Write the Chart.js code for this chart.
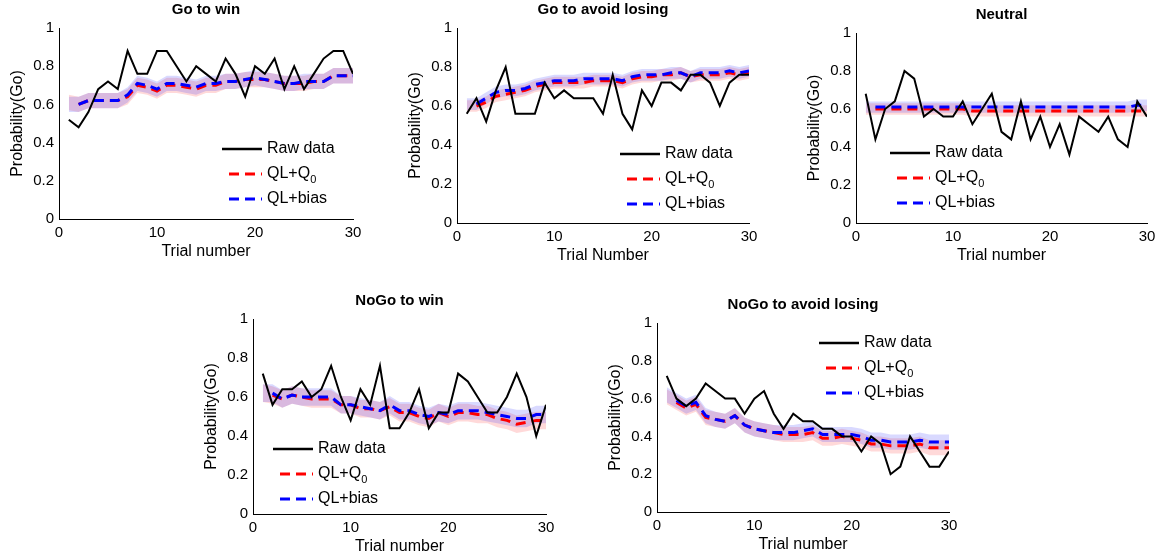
<!DOCTYPE html>
<html>
<head>
<meta charset="UTF-8">
<title>Probability(Go) by condition</title>
<script src="https://cdn.jsdelivr.net/npm/chart.js"></script>
<style>
    body { margin: 0; background: #fff; width: 1167px; height: 558px; overflow: hidden; position: relative; }
    .panel { position: absolute; }
</style>
</head>
<body>
<script>
// trials 1..30
const trials = Array.from({length: 30}, (_, i) => i + 1);
const xTicks = [0, 10, 20, 30];
const yTicks = [0, 0.2, 0.4, 0.6, 0.8, 1];

const goWinRaw  = [0.52,0.48,0.56,0.68,0.72,0.68,0.88,0.76,0.76,0.88,0.88,0.80,0.72,0.80,0.76,0.72,0.84,0.76,0.64,0.80,0.76,0.84,0.68,0.80,0.68,0.76,0.84,0.88,0.88,0.76];
const goWinQ0   = [0.61,0.60,0.62,0.62,0.62,0.62,0.64,0.70,0.69,0.67,0.70,0.70,0.69,0.68,0.70,0.70,0.72,0.72,0.73,0.73,0.73,0.72,0.71,0.71,0.71,0.72,0.72,0.75,0.75,0.75];
const goWinBias = [0.60,0.60,0.62,0.62,0.62,0.62,0.65,0.71,0.70,0.68,0.71,0.71,0.70,0.69,0.71,0.71,0.72,0.72,0.73,0.74,0.73,0.72,0.71,0.71,0.72,0.72,0.72,0.75,0.75,0.75];

const goAvoidRaw  = [0.56,0.64,0.52,0.68,0.80,0.56,0.56,0.56,0.72,0.64,0.68,0.64,0.64,0.64,0.56,0.76,0.56,0.48,0.68,0.60,0.72,0.72,0.68,0.76,0.76,0.72,0.60,0.72,0.76,0.76];
const goAvoidQ0   = [0.60,0.60,0.62,0.65,0.66,0.67,0.68,0.70,0.71,0.72,0.72,0.72,0.72,0.73,0.73,0.73,0.72,0.74,0.75,0.75,0.76,0.76,0.77,0.75,0.76,0.76,0.76,0.77,0.76,0.77];
const goAvoidBias = [0.61,0.61,0.64,0.67,0.68,0.68,0.69,0.71,0.72,0.73,0.73,0.73,0.74,0.74,0.74,0.74,0.73,0.75,0.76,0.76,0.76,0.77,0.77,0.75,0.77,0.77,0.77,0.78,0.77,0.78];

const neutralRaw  = [0.68,0.44,0.60,0.64,0.80,0.76,0.56,0.60,0.56,0.56,0.64,0.52,0.60,0.68,0.48,0.44,0.64,0.44,0.56,0.40,0.52,0.36,0.56,0.52,0.48,0.56,0.44,0.40,0.64,0.56];
const neutralQ0   = [0.60,0.60,0.60,0.60,0.60,0.60,0.60,0.60,0.60,0.60,0.60,0.59,0.59,0.59,0.59,0.59,0.59,0.59,0.59,0.59,0.59,0.59,0.59,0.59,0.59,0.59,0.59,0.59,0.59,0.59];
const neutralBias = [0.61,0.61,0.61,0.61,0.61,0.61,0.61,0.61,0.61,0.61,0.61,0.61,0.61,0.61,0.61,0.61,0.61,0.61,0.61,0.61,0.61,0.61,0.61,0.61,0.61,0.61,0.61,0.61,0.62,0.62];

const noGoWinRaw  = [0.72,0.56,0.64,0.64,0.68,0.60,0.64,0.76,0.60,0.48,0.64,0.56,0.76,0.44,0.44,0.52,0.64,0.44,0.52,0.52,0.72,0.68,0.60,0.52,0.52,0.60,0.72,0.60,0.40,0.56];
const noGoWinQ0   = [0.62,0.61,0.59,0.61,0.60,0.59,0.59,0.59,0.56,0.56,0.54,0.54,0.53,0.55,0.52,0.52,0.50,0.49,0.52,0.50,0.52,0.52,0.51,0.51,0.49,0.48,0.46,0.47,0.48,0.48];
const noGoWinBias = [0.62,0.62,0.59,0.61,0.60,0.60,0.60,0.60,0.56,0.56,0.55,0.54,0.53,0.56,0.53,0.53,0.51,0.50,0.52,0.51,0.53,0.53,0.53,0.52,0.51,0.50,0.49,0.49,0.51,0.51];

const noGoAvoidRaw  = [0.72,0.60,0.56,0.60,0.68,0.64,0.60,0.60,0.52,0.60,0.64,0.52,0.44,0.52,0.48,0.48,0.44,0.44,0.40,0.40,0.32,0.40,0.36,0.20,0.24,0.40,0.32,0.24,0.24,0.32];
const noGoAvoidQ0   = [0.61,0.58,0.55,0.57,0.50,0.49,0.48,0.51,0.46,0.44,0.43,0.42,0.41,0.41,0.41,0.42,0.39,0.39,0.40,0.39,0.38,0.36,0.36,0.35,0.35,0.35,0.36,0.34,0.34,0.34];
const noGoAvoidBias = [0.62,0.59,0.56,0.58,0.51,0.49,0.48,0.51,0.46,0.44,0.43,0.42,0.42,0.42,0.43,0.44,0.41,0.41,0.41,0.41,0.40,0.38,0.38,0.37,0.37,0.37,0.38,0.37,0.37,0.37];

// half width of the shaded error band, per panel
const bandHalf = [0.04, 0.03, 0.03, 0.045, 0.04];

const titles = ['Go to win', 'Go to avoid losing', 'Neutral', 'NoGo to win', 'NoGo to avoid losing'];
const xTitles = ['Trial number', 'Trial Number', 'Trial number', 'Trial number', 'Trial number'];

// plot areas in page pixels and legend placement (relative to plot area)
const panels = [
    {raw: goWinRaw, q0: goWinQ0, bias: goWinBias, area: [59, 28, 353, 219], legend: [163, 121]},
    {raw: goAvoidRaw, q0: goAvoidQ0, bias: goAvoidBias, area: [457, 28, 749, 223], legend: [163, 126]},
    {raw: neutralRaw, q0: neutralQ0, bias: neutralBias, area: [856, 33, 1147, 223], legend: [34, 120]},
    {raw: noGoWinRaw, q0: noGoWinQ0, bias: noGoWinBias, area: [253, 319, 546, 514], legend: [20, 130]},
    {raw: noGoAvoidRaw, q0: noGoAvoidQ0, bias: noGoAvoidBias, area: [657, 323, 949, 512], legend: [162, 20]}
];

const LEFT = 59, TOP = 28, RIGHT = 15, BOTTOM = 45;
const FONT = 'Arial, "Liberation Sans", sans-serif';
const DASH = [10, 6];

const pts = (arr, skipFirst) => arr.map((v, i) => ({x: trials[i], y: (skipFirst && i === 0) ? null : v}));
const shift = (arr, d) => arr.map((v, i) => ({x: trials[i], y: v + d}));

// title + legend drawn on the canvas
const decor = {
    id: 'decor',
    afterDraw(chart, args, opts) {
        const ctx = chart.ctx, a = chart.chartArea;
        ctx.save();
        ctx.fillStyle = '#000';
        ctx.font = 'bold 15px ' + FONT;
        ctx.textAlign = 'center';
        ctx.textBaseline = 'middle';
        ctx.fillText(opts.title, (a.left + a.right) / 2, a.top - 18);

        const lx = a.left + opts.legend[0], ly = a.top + opts.legend[1];
        const rows = [
            {color: '#000', dash: [], label: 'Raw data'},
            {color: '#ff0000', dash: DASH, label: 'QL+Q', sub: '0'},
            {color: '#0000ff', dash: DASH, label: 'QL+bias'}
        ];
        rows.forEach((r, i) => {
            const y = ly + i * 25;
            ctx.beginPath();
            ctx.setLineDash(r.dash);
            ctx.strokeStyle = r.color;
            ctx.lineWidth = r.dash.length ? 3 : 2.5;
            ctx.moveTo(lx + (r.dash.length ? 7 : 0), y);
            ctx.lineTo(lx + 40, y);
            ctx.stroke();
            ctx.setLineDash([]);
            ctx.font = '16px ' + FONT;
            ctx.textAlign = 'left';
            ctx.fillText(r.label, lx + 45, y);
            if (r.sub) {
                const w = ctx.measureText(r.label).width;
                ctx.font = '11px ' + FONT;
                ctx.fillText(r.sub, lx + 45 + w, y + 6);
            }
        });
        ctx.restore();
    }
};

panels.forEach((p, k) => {
    const [l, t, r, b] = p.area;
    const w = r - l + LEFT + RIGHT, h = b - t + TOP + BOTTOM;
    const div = document.createElement('div');
    div.className = 'panel';
    div.style.left = (l - LEFT) + 'px';
    div.style.top = (t - TOP) + 'px';
    div.style.width = w + 'px';
    div.style.height = h + 'px';
    const canvas = document.createElement('canvas');
    div.appendChild(canvas);
    document.body.appendChild(div);

    const hw = bandHalf[k];
    new Chart(canvas, {
        type: 'line',
        data: {
            datasets: [
                {data: pts(p.raw), borderColor: '#000', borderWidth: 2, fill: false},
                {data: pts(p.bias, true), borderColor: '#0000ff', borderWidth: 3, borderDash: DASH, fill: false},
                {data: pts(p.q0, true), borderColor: '#ff0000', borderWidth: 3, borderDash: DASH, fill: false},
                {data: shift(p.bias, hw), borderWidth: 0, borderColor: 'rgba(0,0,0,0)', backgroundColor: 'rgba(0,0,255,0.15)', fill: '+1'},
                {data: shift(p.bias, -hw), borderWidth: 0, borderColor: 'rgba(0,0,0,0)', fill: false},
                {data: shift(p.q0, hw), borderWidth: 0, borderColor: 'rgba(0,0,0,0)', backgroundColor: 'rgba(255,0,0,0.15)', fill: '+1'},
                {data: shift(p.q0, -hw), borderWidth: 0, borderColor: 'rgba(0,0,0,0)', fill: false}
            ]
        },
        options: {
            responsive: true,
            maintainAspectRatio: false,
            animation: false,
            elements: {point: {radius: 0}, line: {tension: 0}},
            layout: {padding: {top: TOP, right: RIGHT, left: 0, bottom: 0}},
            plugins: {
                legend: {display: false},
                tooltip: {enabled: false},
                decor: {title: titles[k], legend: p.legend}
            },
            scales: {
                x: {
                    type: 'linear', min: 0, max: 30,
                    afterFit: s => { s.height = BOTTOM; },
                    afterBuildTicks: s => { s.ticks = xTicks.map(v => ({value: v})); },
                    grid: {display: false, drawTicks: false},
                    border: {display: true, color: '#000', width: 1},
                    ticks: {color: '#000', padding: 5, font: {size: 15, family: FONT}},
                    title: {display: true, text: xTitles[k], color: '#000', padding: {top: 0, bottom: 3}, font: {size: 16, family: FONT}}
                },
                y: {
                    min: 0, max: 1,
                    afterFit: s => { s.width = LEFT; },
                    afterBuildTicks: s => { s.ticks = yTicks.map(v => ({value: v})); },
                    grid: {display: false, drawTicks: false},
                    border: {display: true, color: '#000', width: 1},
                    ticks: {color: '#000', padding: 5, font: {size: 15, family: FONT}, callback: v => String(Math.round(v * 10) / 10)},
                    title: {display: true, text: 'Probability(Go)', color: '#000', padding: {top: 8, bottom: 0}, font: {size: 16, family: FONT}}
                }
            }
        },
        plugins: [decor]
    });
});
</script>
</body>
</html>
